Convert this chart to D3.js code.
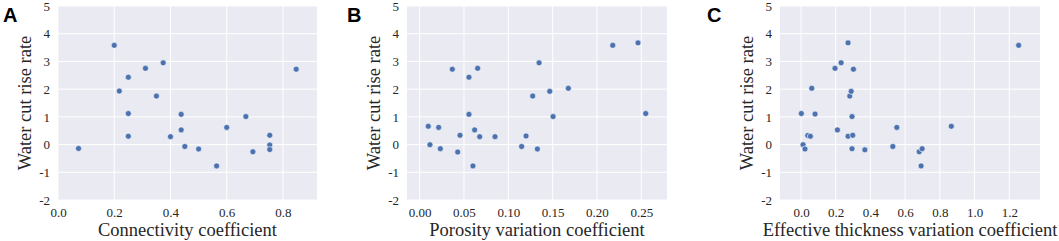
<!DOCTYPE html>
<html lang="en">
<head>
<meta charset="UTF-8" />
<title>Water cut rise rate scatter</title>
<script src="https://d3js.org/d3.v7.min.js"></script>
<style>
  body { margin: 0; background: #fff; }
  svg { display: block; }
</style>
</head>
<body>
<div id="chart"></div>
<script>
  const width = 1059;
  const height = 241;

  const yTicks = [-2, -1, 0, 1, 2, 3, 4, 5];

  // panel A: connectivity coefficient
  const connX = [0.2, 0.073, 0.218, 0.25, 0.25, 0.25, 0.311, 0.374, 0.35, 0.40, 0.438,
    0.438, 0.451, 0.50, 0.564, 0.60, 0.668, 0.693, 0.753, 0.753, 0.753, 0.847];
  const connY = [3.58, -0.14, 1.93, 2.43, 1.12, 0.30, 2.75, 2.95, 1.75, 0.285, 1.09,
    0.53, -0.07, -0.16, -0.77, 0.62, 1.01, -0.26, 0.335, -0.015, -0.18, 2.72];
  const connTicks = [0.0, 0.2, 0.4, 0.6, 0.8];

  // panel B: porosity variation coefficient
  const poroX = [0.0097, 0.0116, 0.0214, 0.0233, 0.0368, 0.0429, 0.0455, 0.0556, 0.0556,
    0.0601, 0.062, 0.0654, 0.0677, 0.085, 0.115, 0.12, 0.1275, 0.1328, 0.1347, 0.1467,
    0.1505, 0.1677, 0.2178, 0.2463, 0.255];
  const poroY = [0.66, -0.004, 0.62, -0.15, 2.72, -0.27, 0.335, 2.43, 1.09,
    -0.77, 0.53, 2.75, 0.285, 0.285, -0.07, 0.31, 1.75, -0.16, 2.95, 1.92,
    1.01, 2.03, 3.58, 3.67, 1.12];
  const poroTicks = [0.00, 0.05, 0.10, 0.15, 0.20, 0.25];

  // panel C: effective thickness variation coefficient
  const thickX = [0.002, 0.012, 0.023, 0.039, 0.054, 0.062, 0.081, 0.196, 0.21, 0.231,
    0.271, 0.271, 0.281, 0.289, 0.294, 0.294, 0.298, 0.302, 0.368, 0.529, 0.552,
    0.681, 0.692, 0.698, 0.866, 1.254];
  const thickY = [1.12, -0.004, -0.16, 0.33, 0.30, 2.03, 1.10, 2.75, 0.53, 2.95,
    3.67, 0.30, 1.75, 1.92, 1.01, -0.15, 0.335, 2.72, -0.19, -0.07, 0.62,
    -0.26, -0.77, -0.15, 0.66, 3.58];
  const thickTicks = [0.0, 0.2, 0.4, 0.6, 0.8, 1.0, 1.2];

  const panels = [
    { label: "A", xs: connX, ys: connY, ticks: connTicks, fmt: d3.format(".1f"),
      domain: [0, 0.921], left: 58, right: 317, labelX: 3,
      title: "Connectivity coefficient" },
    { label: "B", xs: poroX, ys: poroY, ticks: poroTicks, fmt: d3.format(".2f"),
      domain: [-0.0143, 0.279], left: 407, right: 667, labelX: 347,
      title: "Porosity variation coefficient" },
    { label: "C", xs: thickX, ys: thickY, ticks: thickTicks, fmt: d3.format(".1f"),
      domain: [-0.121, 1.377], left: 780, right: 1040, labelX: 707,
      title: "Effective thickness variation coefficient" }
  ];

  const plotTop = 6, plotBottom = 200;
  const serif = "'Times New Roman', 'Liberation Serif', serif";

  const svg = d3.select("#chart")
    .append("svg")
    .attr("width", width)
    .attr("height", height);

  const y = d3.scaleLinear().domain([-2, 5]).range([plotBottom, plotTop]);

  panels.forEach(p => {
    const x = d3.scaleLinear().domain(p.domain).range([p.left, p.right]);
    const g = svg.append("g");

    // seaborn darkgrid background
    g.append("rect")
      .attr("x", p.left)
      .attr("y", plotTop)
      .attr("width", p.right - p.left)
      .attr("height", plotBottom - plotTop)
      .attr("fill", "#eaeaf2");

    // grid lines
    g.selectAll(".gx").data(p.ticks).join("line")
      .attr("class", "gx")
      .attr("x1", d => x(d)).attr("x2", d => x(d))
      .attr("y1", plotTop).attr("y2", plotBottom)
      .attr("stroke", "#fff").attr("stroke-width", 1);
    g.selectAll(".gy").data(yTicks).join("line")
      .attr("class", "gy")
      .attr("x1", p.left).attr("x2", p.right)
      .attr("y1", d => y(d)).attr("y2", d => y(d))
      .attr("stroke", "#fff").attr("stroke-width", 1);

    // axes (no spines, no tick marks)
    const xAxis = d3.axisBottom(x).tickValues(p.ticks).tickFormat(p.fmt)
      .tickSize(0).tickPadding(8);
    const yAxis = d3.axisLeft(y).tickValues(yTicks).tickFormat(d => (d < 0 ? "-" + Math.abs(d) : d))
      .tickSize(0).tickPadding(8);

    const xg = g.append("g").attr("transform", `translate(0,${plotBottom})`).call(xAxis);
    const yg = g.append("g").attr("transform", `translate(${p.left},0)`).call(yAxis);
    [xg, yg].forEach(a => {
      a.attr("font-family", serif).attr("font-size", 13);
      a.select(".domain").remove();
      a.selectAll("text")
        .attr("font-family", serif)
        .attr("font-size", 13)
        .attr("fill", "#262626");
    });

    // points
    g.selectAll("circle").data(p.xs.map((v, i) => [v, p.ys[i]])).join("circle")
      .attr("cx", d => x(d[0]))
      .attr("cy", d => y(d[1]))
      .attr("r", 3)
      .attr("fill", "#4c72b0")
      .attr("stroke", "#fff")
      .attr("stroke-width", 0.6);

    // axis titles
    g.append("text")
      .attr("x", (p.left + p.right) / 2)
      .attr("y", 236)
      .attr("text-anchor", "middle")
      .attr("font-family", serif)
      .attr("font-size", 18.5)
      .attr("fill", "#262626")
      .text(p.title);

    g.append("text")
      .attr("transform", `translate(${p.left - 27},${(plotTop + plotBottom) / 2}) rotate(-90)`)
      .attr("text-anchor", "middle")
      .attr("font-family", serif)
      .attr("font-size", 18.5)
      .attr("fill", "#262626")
      .text("Water cut rise rate");

    // panel letter
    g.append("text")
      .attr("x", p.labelX)
      .attr("y", 22)
      .attr("font-family", "Arial, 'Liberation Sans', sans-serif")
      .attr("font-weight", "bold")
      .attr("font-size", 20)
      .attr("fill", "#000")
      .text(p.label);
  });
</script>
</body>
</html>
